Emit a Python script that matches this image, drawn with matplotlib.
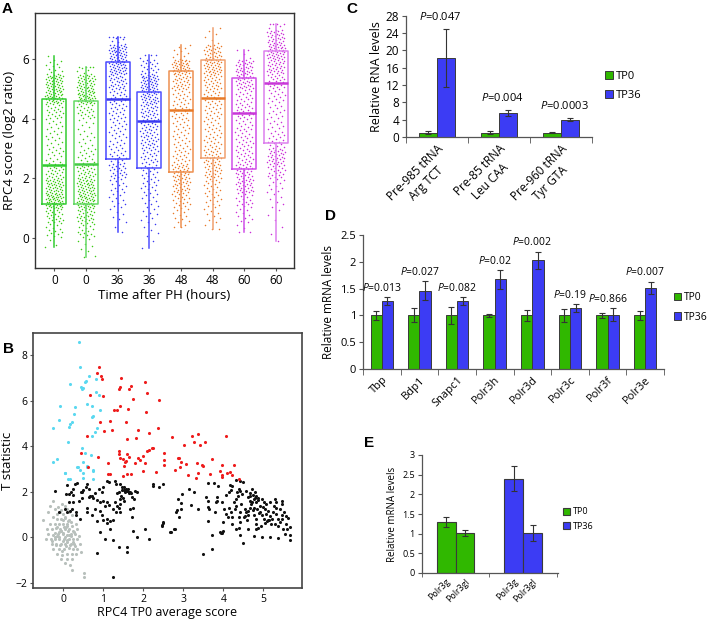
import numpy as np
import matplotlib
matplotlib.use('Agg')
import matplotlib.pyplot as plt

plt.rcParams['font.family'] = ['Open Sans', 'DejaVu Sans']
plt.rcParams['mathtext.fontset'] = 'custom'
plt.rcParams['mathtext.it'] = 'Open Sans:italic'
plt.rcParams['mathtext.rm'] = 'Open Sans'

# ============================================================
# Panel A: RPC4 score per liver sample (box + strip)
# ============================================================
a_labels = ['0', '0', '36', '36', '48', '48', '60', '60']
a_q1 = [1.15, 1.15, 2.66, 2.33, 2.22, 2.69, 2.30, 3.20]
a_med = [2.46, 2.48, 4.65, 3.93, 4.28, 4.70, 4.18, 5.20]
a_q3 = [4.65, 4.61, 5.90, 4.90, 5.60, 5.98, 5.38, 6.29]
a_lo = [-0.30, -0.65, 0.20, -0.35, 0.35, 0.30, 0.20, -0.10]
a_hi = [6.10, 5.75, 6.75, 6.15, 6.50, 7.05, 6.30, 7.20]
# point counts per 0.5-wide score bin, from -1 to 7.5
a_bin_edges = np.arange(-1.0, 7.51, 0.5)
a_counts = [
    [0, 3, 14, 22, 50, 40, 25, 14, 12, 12, 20, 42, 40, 12, 1, 0, 0],
    [2, 6, 16, 28, 45, 40, 28, 15, 10, 8, 20, 45, 38, 8, 0, 0, 0],
    [0, 0, 2, 6, 10, 12, 22, 16, 14, 15, 18, 20, 28, 40, 40, 10, 0],
    [0, 2, 5, 8, 10, 14, 16, 20, 26, 25, 28, 35, 40, 20, 4, 0, 0],
    [0, 0, 3, 10, 18, 28, 30, 18, 15, 15, 18, 18, 28, 40, 10, 0, 0],
    [0, 0, 3, 8, 12, 16, 25, 25, 18, 16, 18, 20, 25, 38, 30, 5, 1],
    [0, 0, 4, 10, 15, 28, 25, 20, 18, 16, 20, 18, 30, 30, 4, 0, 0],
    [0, 1, 2, 3, 6, 10, 22, 30, 16, 12, 12, 14, 22, 30, 40, 30, 6],
]
a_pt_colors = ['#3ccc14', '#3ccc14', '#3a3af0', '#3a3af0',
               '#ea7a28', '#ea7a28', '#cc2ed8', '#cc2ed8']
a_box_colors = ['#33cc33', '#66d866', '#4848ff', '#5050ff',
                '#ee9050', '#f0a070', '#d050e8', '#dd80ee']
a_med_colors = ['#33cc33', '#44cc44', '#3a3af0', '#3a3af0',
                '#e87a28', '#e87a28', '#c838d8', '#c838d8']

# ============================================================
# Panel B: T statistic vs TP0 score
# ============================================================
cyan_x = [0.40, 0.42, 0.63, 0.57, 0.54, 0.81, 0.175, 0.44, 0.50, 0.47, 0.81, 0.89,
          -0.075, 0.29, 0.60, 0.72, 0.92, 0.27, 0.75, 0.72, -0.10, 0.225, 0.175, 0.15,
          -0.27, 0.85, 0.79, 0.71, 0.125, 0.47, 0.54, 0.70, -0.17, -0.25, 0.48, 0.36,
          0.60, 0.42, 0.75, 0.05, 0.04, 0.35, 0.58, 0.48, 0.75, 0.125, 0.17, 0.50, 0.75]
cyan_y = [8.57, 7.48, 7.07, 6.87, 6.80, 6.94, 6.72, 6.58, 6.54, 6.50, 6.38, 6.22,
          5.77, 5.70, 5.86, 5.74, 5.59, 5.41, 5.33, 5.28, 5.16, 5.07, 4.99, 4.83,
          4.78, 4.80, 4.61, 4.43, 4.17, 3.90, 3.68, 3.62, 3.42, 3.32, 3.30, 3.10,
          3.13, 2.96, 2.93, 2.84, 2.81, 3.10, 3.10, 2.84, 2.96, 2.58, 2.55, 2.62, 2.58]

red_x = [0.90, 0.83, 0.93, 0.96, 0.66, 0.98, 1.45, 1.39, 1.42, 1.68, 1.63, 2.05,
         2.10, 2.38, 1.74, 1.41, 1.26, 1.35, 1.61, 2.06, 0.91, 1.16, 1.57, 1.01,
         1.22, 1.87, 2.375, 2.14, 0.58, 1.58, 1.81, 2.71, 0.43, 0.875, 1.40, 1.38,
         1.60, 1.65, 1.50, 1.57, 1.42, 2.21, 2.14, 2.08, 1.98, 1.87, 1.91, 2.52,
         2.51, 1.12, 1.55, 1.80, 2.03, 1.52, 0.625, 2.52, 2.79, 1.12, 1.17, 1.60,
         1.69, 1.48, 1.98, 2.32, 2.875, 3.21, 3.38, 3.28, 3.42, 3.54, 3.03, 4.06,
         2.23, 2.89, 2.94, 3.07, 3.34, 3.48, 3.50, 3.73, 3.98, 4.28, 2.93, 3.12,
         3.36, 3.67, 3.92, 3.98, 3.98, 4.10, 4.17, 4.22, 4.40, 3.32]
red_y = [7.48, 7.19, 7.09, 6.94, 6.25, 6.19, 6.97, 6.51, 6.60, 6.65, 6.51, 6.83,
         6.32, 6.04, 6.06, 5.78, 5.59, 5.57, 5.64, 5.51, 5.06, 5.12, 5.07, 4.65,
         4.71, 4.72, 4.81, 4.57, 4.43, 4.33, 4.35, 4.42, 3.71, 3.52, 3.77, 3.64,
         3.64, 3.54, 3.45, 3.36, 3.48, 3.90, 3.81, 3.77, 3.57, 3.46, 3.39, 3.68,
         3.39, 3.28, 3.30, 3.25, 3.28, 3.13, 3.09, 3.16, 2.97, 2.80, 2.80, 2.78,
         2.78, 2.70, 2.91, 2.87, 3.48, 4.46, 4.51, 4.20, 4.07, 4.20, 4.07, 4.45,
         3.90, 3.48, 3.32, 3.22, 3.28, 3.16, 3.12, 3.42, 3.17, 3.16, 3.07, 2.72,
         2.83, 2.77, 2.90, 2.75, 2.65, 2.81, 2.87, 2.75, 2.57, 2.61]

black_x = [-0.21, 0.08, 0.06, 0.18, 0.23, 0.30, 0.35, 0.23, 0.15, 0.44, 0.50, 0.47,
           0.60, 0.57, 0.63, 0.67, 0.64, 0.71, 0.79, 0.88, 0.96, 1.00, 1.08, 1.14,
           1.28, 1.31, 0.75, 0.85, 0.92, 1.00, 1.10, 1.04, 1.14, 1.25, 1.32, 0.46,
           0.39, 0.25, 0.13, 0.05, 0.21, 0.17, 0.32, 0.08, -0.10, 0.60, 0.60, 0.71,
           0.42, 0.32, 0.79, 0.92, 0.96, 0.83, 0.98, 1.08, 1.08, 1.17, 1.23, 1.42,
           1.46, 1.52, 1.52, 1.54, 1.58, 1.57, 1.61, 1.63, 1.64, 1.67, 1.69, 1.47,
           1.40, 1.35, 1.43, 1.48, 1.52, 1.42, 1.33, 1.28, 1.42, 1.71, 1.77, 1.79,
           1.85, 1.40, 1.42, 1.67, 1.71, 1.75, 1.23, 1.38, 1.58, 1.58, 1.25, 0.92,
           1.04, 0.83, 1.17, 1.75, 1.83, 2.04, 2.13, 2.23, 2.25, 2.50, 2.46, 2.50,
           2.79, 2.83, 2.69, 2.40, 3.15, 3.27, 2.98, 2.88, 2.94, 3.20, 2.85, 2.94,
           2.90, 2.48, 2.46, 2.78, 2.67, 3.38, 3.63, 3.78, 3.57, 3.63, 3.63, 3.64,
           3.62, 3.84, 3.84, 3.73, 3.71, 3.50, 3.92, 3.94, 3.98, 4.00, 4.00, 4.08,
           4.12, 4.02, 4.15, 3.88, 4.07, 4.14, 4.19, 4.17, 4.23, 4.31, 4.42, 4.50,
           4.27, 4.32, 4.38, 4.35, 4.42, 4.46, 4.40, 4.20, 4.22, 4.42, 4.40, 4.43,
           4.39, 4.33, 4.50, 4.61, 4.54, 4.58, 4.60, 4.63, 4.58, 4.67, 4.71, 4.75,
           4.79, 4.77, 4.83, 4.67, 4.73, 4.82, 4.88, 4.92, 4.85, 4.77, 4.67, 4.63,
           4.77, 4.83, 4.82, 4.88, 4.83, 4.92, 4.98, 5.02, 5.04, 5.08, 5.13, 5.17,
           5.10, 5.15, 5.21, 5.25, 5.32, 5.27, 5.33, 5.38, 5.42, 5.30, 5.37, 5.46,
           5.48, 5.52, 5.56, 5.63, 5.58, 5.67, 5.60, 5.50, 5.54, 5.67, 5.67, 5.36,
           5.17, 4.98, 4.77, 5.29, 5.33, 5.46, 5.48, 5.43, 5.02, 5.08, 5.17, 4.96,
           4.33, 4.29, 3.83, 3.96, 3.79, 4.21, 4.42, 4.70, 4.86, 4.74, 4.90, 5.00,
           4.62, 4.55, 4.95, 5.20, 5.12, 4.45, 4.52, 4.68, 4.80, 5.05]
black_y = [2.04, 2.29, 1.91, 2.01, 2.12, 2.33, 2.38, 1.86, 1.91, 2.01, 2.07, 1.99,
           2.33, 2.22, 2.12, 1.83, 1.78, 1.83, 1.93, 2.12, 2.01, 2.20, 2.48, 2.41,
           2.48, 2.33, 1.71, 1.64, 1.57, 1.58, 1.54, 1.39, 1.42, 1.25, 1.10, 1.72,
           1.61, 1.54, 1.57, 1.25, 1.25, 1.17, 1.13, 1.10, 1.10, 1.28, 1.13, 0.99,
           0.81, 0.96, 1.25, 1.17, 0.96, 0.70, 0.77, 0.81, 0.64, 0.70, 0.77, 2.33,
           2.23, 2.19, 2.09, 1.97, 2.04, 2.14, 2.12, 2.00, 1.93, 2.00, 1.93, 2.07,
           1.97, 1.94, 1.83, 1.71, 1.61, 1.46, 1.39, 1.57, 1.68, 1.75, 1.68, 2.04,
           1.97, 1.28, 1.10, 1.25, 0.88, 1.28, -0.13, -0.42, -0.42, -0.64, -1.72, 0.23,
           -0.06, -0.67, 0.38, 0.30, 0.01, 0.38, -0.06, 2.33, 2.26, 2.33, 0.55, 0.67,
           0.38, 1.10, 0.23, 2.19, 2.12, 2.01, 1.90, 1.68, 1.49, 1.42, 1.22, 1.25,
           0.90, 0.64, 0.52, 0.35, 0.23, 1.25, 2.38, 2.38, 1.78, 1.61, 1.32, 1.25,
           0.72, 1.75, 1.58, 0.09, -0.49, -0.71, 0.23, 0.17, 0.20, 0.26, 0.67, 1.03,
           0.88, 1.25, 1.28, 2.26, 1.86, 1.97, 2.06, 2.29, 2.26, 2.52, 2.46, 2.43,
           1.54, 1.68, 1.80, 1.97, 2.04, 1.90, 2.12, 1.10, 0.88, 1.10, 0.88, 0.67,
           0.41, 0.38, -0.25, 0.38, 1.25, 1.10, 0.78, 0.96, 2.04, 1.94, 2.14, 1.86,
           1.97, 1.68, 1.83, 1.61, 1.54, 1.57, 1.71, 1.39, 1.25, 1.28, 1.28, 1.75,
           0.96, 0.81, 0.59, 0.41, 0.35, 1.10, 0.99, 0.81, 1.25, 1.03, 1.17, 0.93,
           0.70, 0.74, 0.81, 1.10, 1.28, 1.39, 1.03, 0.81, 0.67, 0.59, 0.52, 0.96,
           0.81, 1.10, 0.93, 0.84, 0.59, 0.45, 0.38, 0.38, 0.16, 0.12, -0.10, -0.03,
           0.01, 0.01, 0.06, 1.68, 1.54, 1.61, 1.46, 1.25, 1.57, 1.46, 1.57, 1.68,
           1.39, 1.25, 1.54, 1.57, 1.10, 0.59, 0.09, 1.45, 1.62, 1.20, 1.05, 1.35,
           1.15, 0.95, 0.50, 0.60, 0.75, 1.45, 0.90, 1.80, 1.72, 0.65]

grey_x = [-0.27, -0.33, -0.38, -0.50, -0.21, -0.13, -0.04, 0.04, 0.08, -0.08, -0.15,
          0.00, 0.13, 0.21, -0.25, -0.17, -0.07, 0.04, 0.13, 0.19, -0.33, -0.21,
          -0.10, 0.00, 0.08, 0.21, 0.32, -0.42, -0.29, -0.18, -0.08, 0.04, 0.15,
          0.25, 0.33, -0.38, -0.25, -0.13, -0.02, 0.08, 0.18, 0.29, -0.43, -0.32,
          -0.21, -0.10, 0.02, 0.13, 0.23, 0.33, -0.29, -0.18, -0.08, 0.04, 0.17,
          0.27, -0.25, -0.10, 0.02, 0.13, 0.23, 0.35, -0.17, -0.04, 0.08, 0.21,
          0.32, -0.07, 0.08, 0.21, 0.04, 0.17, 0.21, 0.52, 0.52, 0.43, 0.42, 0.40,
          -0.02, 0.06, -0.06, -0.15, 0.11, -0.28, -0.05, 0.00, 0.05, -0.10, 0.10,
          -0.05, 0.15, -0.20, 0.00, 0.20, 0.10, -0.15, 0.05, -0.05, 0.25, 0.30,
          -0.12, 0.02, 0.18, -0.22, 0.07, 0.12, -0.03, 0.26, -0.18, 0.09]
grey_y = [1.61, 1.39, 1.10, 0.74, 1.25, 1.32, 1.46, 1.39, 1.25, 1.10, 1.03,
          1.03, 1.10, 0.96, 0.88, 0.81, 0.81, 0.84, 0.74, 0.67, 0.59, 0.59,
          0.59, 0.59, 0.52, 0.52, 0.59, 0.38, 0.38, 0.41, 0.38, 0.35, 0.38,
          0.30, 0.38, 0.16, 0.12, 0.16, 0.16, 0.12, 0.16, 0.16, -0.06, -0.06,
          -0.09, -0.06, -0.09, -0.06, -0.09, -0.06, -0.28, -0.28, -0.32, -0.28, -0.32,
          -0.28, -0.49, -0.49, -0.52, -0.46, -0.52, -0.49, -0.71, -0.78, -0.75, -0.71,
          -0.71, -0.93, -0.96, -0.93, -1.14, -1.22, -1.43, -1.58, -1.72, -0.64, -0.28, 0.06,
          0.74, 0.45, 0.26, 0.06, 0.26, -0.17, 0.30, 0.20, 0.00, 0.00, -0.20,
          -0.30, 0.10, 0.20, -0.15, -0.30, 0.60, 0.45, 0.90, 1.20, -0.20, -0.40,
          0.25, 0.45, 0.05, 0.00, -0.40, 0.70, -0.60, 0.25, -0.35, -0.10]

# ============================================================
# Panel C: pre-tRNA levels
# ============================================================
c_labels = ['Pre-985 tRNA\nArg TCT', 'Pre-85 tRNA\nLeu CAA', 'Pre-960 tRNA\nTyr GTA']
c_tp0 = [1.0, 1.0, 1.0]
c_tp0_err = [0.4, 0.35, 0.12]
c_tp36 = [18.2, 5.5, 3.95]
c_tp36_err = [6.7, 0.73, 0.35]
c_pvals = ['0.047', '0.004', '0.0003']

# ============================================================
# Panel D: Pol III machinery mRNA
# ============================================================
d_labels = ['Tbp', 'Bdp1', 'Snapc1', 'Polr3h', 'Polr3d', 'Polr3c', 'Polr3f', 'Polr3e']
d_tp0 = [1.0, 1.0, 1.0, 1.0, 1.0, 1.0, 1.0, 1.0]
d_tp0_err = [0.085, 0.13, 0.16, 0.025, 0.10, 0.12, 0.04, 0.085]
d_tp36 = [1.27, 1.46, 1.27, 1.67, 2.03, 1.14, 1.01, 1.51]
d_tp36_err = [0.07, 0.18, 0.07, 0.18, 0.16, 0.07, 0.12, 0.12]
d_pvals = ['0.013', '0.027', '0.082', '0.02', '0.002', '0.19', '0.866', '0.007']

# ============================================================
# Panel E: Polr3g / Polr3gl
# ============================================================
e_genes = ['Polr3g', 'Polr3gl']
e_tp0 = [1.30, 1.02]
e_tp0_err = [0.12, 0.07]
e_tp36 = [2.40, 1.02]
e_tp36_err = [0.32, 0.20]

GREEN = '#30b800'
BLUE = '#3c3cf4'
EDGE = '#3a3a3a'

fig = plt.figure(figsize=(7.08, 6.2), dpi=100)


def px_axes(left, top, right, bottom):
    return fig.add_axes([left / 708, 1 - bottom / 620, (right - left) / 708, (bottom - top) / 620])


def excel_style(ax, fs):
    for s in ['top', 'right']:
        ax.spines[s].set_visible(False)
    for s in ['left', 'bottom']:
        ax.spines[s].set_color('#555555')
        ax.spines[s].set_linewidth(0.9)
    ax.tick_params(axis='y', length=3, width=0.8, color='#555555', labelsize=fs, pad=2)


# ---------------- A ----------------
axA = px_axes(35, 13, 294, 268)
for i, counts in enumerate(a_counts):
    ys = []
    for b, n in enumerate(counts):
        if n:
            ys.extend(a_bin_edges[b] + (np.arange(n) + 0.5) / n * 0.5)
    ys = np.clip(np.array(ys), a_lo[i], a_hi[i])
    k = np.arange(len(ys))
    xs = i + (((k * 0.618034 + i * 0.37) % 1.0) - 0.5) * 0.56
    axA.scatter(xs, ys, s=1.2, color=a_pt_colors[i], linewidths=0, zorder=2)
    stats = [dict(med=a_med[i], q1=a_q1[i], q3=a_q3[i], whislo=a_lo[i], whishi=a_hi[i], fliers=[])]
    axA.bxp(stats, positions=[i], widths=0.76, showfliers=False, showcaps=False,
            boxprops=dict(color=a_box_colors[i], linewidth=1.1),
            whiskerprops=dict(color=a_box_colors[i], linewidth=1.1),
            medianprops=dict(color=a_med_colors[i], linewidth=1.8),
            manage_ticks=False, zorder=3)
axA.set_xlim(-0.61, 7.57)
axA.set_ylim(-1.02, 7.56)
axA.set_xticks(range(8))
axA.set_xticklabels(a_labels)
axA.set_yticks([0, 2, 4, 6])
axA.tick_params(labelsize=8.5, length=2.5, color='#555555', pad=2)
axA.set_ylabel('RPC4 score (log2 ratio)', fontsize=9.5, labelpad=4)
axA.set_xlabel('Time after PH (hours)', fontsize=9.5, labelpad=1)
for s in axA.spines.values():
    s.set_color('#333333')
    s.set_linewidth(1.0)

# ---------------- B ----------------
axB = px_axes(33, 333, 302, 588)
axB.scatter(grey_x, grey_y, s=5, color='#b8c0bc', linewidths=0, zorder=2)
axB.scatter(black_x, black_y, s=5, color='#111111', linewidths=0, zorder=3)
axB.scatter(cyan_x, cyan_y, s=5, color='#5ad8f0', linewidths=0, zorder=3)
axB.scatter(red_x, red_y, s=5, color='#ee1c1c', linewidths=0, zorder=3)
axB.set_xlim(-0.76, 5.97)
axB.set_ylim(-2.22, 8.96)
axB.set_xticks([0, 1, 2, 3, 4, 5])
axB.set_yticks([-2, 0, 2, 4, 6, 8])
axB.tick_params(labelsize=7.5, length=2.5, color='#555555', pad=1.5)
axB.set_ylabel('T statistic', fontsize=9.5, labelpad=1)
axB.set_xlabel('RPC4 TP0 average score', fontsize=9, labelpad=1)
for s in axB.spines.values():
    s.set_color('#444444')
    s.set_linewidth(1.2)

# ---------------- C ----------------
axC = px_axes(406, 15.7, 592, 137)
x = np.arange(len(c_labels))
w = 0.29
ekw = dict(ecolor='#333333', elinewidth=0.8, capsize=2, capthick=0.8)
axC.bar(x - w / 2, c_tp0, w, yerr=c_tp0_err, color=GREEN, edgecolor=EDGE, linewidth=0.7,
        error_kw=ekw, label='TP0')
axC.bar(x + w / 2, c_tp36, w, yerr=c_tp36_err, color=BLUE, edgecolor=EDGE, linewidth=0.7,
        error_kw=ekw, label='TP36')
for i, p in enumerate(c_pvals):
    axC.text(x[i] + 0.05, c_tp36[i] + c_tp36_err[i] + 1.4, r'$\mathit{P}$=' + p,
             ha='center', va='bottom', fontsize=8)
axC.set_xlim(-0.5, 2.5)
axC.set_ylim(0, 28)
axC.set_yticks(range(0, 29, 4))
excel_style(axC, 8.5)
axC.set_xticks(x)
axC.set_xticklabels(c_labels, rotation=45, ha='right', rotation_mode='anchor',
                    multialignment='center', fontsize=8.5)
axC.set_xticks([-0.5, 0.5, 1.5, 2.5], minor=True)
axC.tick_params(axis='x', which='major', length=0, pad=4)
axC.tick_params(axis='x', which='minor', length=4, color='#555555')
axC.set_ylabel('Relative RNA levels', fontsize=9, labelpad=2)
axC.legend(loc='center left', bbox_to_anchor=(605 / 708, 1 - 86 / 620), bbox_transform=fig.transFigure,
           frameon=False, fontsize=8, handlelength=0.7, handleheight=0.7, handletextpad=0.3,
           labelspacing=0.7, borderpad=0, borderaxespad=0)

# ---------------- D ----------------
axD = px_axes(363, 235, 664, 369)
x = np.arange(len(d_labels))
w = 0.3
axD.bar(x - w / 2, d_tp0, w, yerr=d_tp0_err, color=GREEN, edgecolor=EDGE, linewidth=0.7,
        error_kw=ekw, label='TP0')
axD.bar(x + w / 2, d_tp36, w, yerr=d_tp36_err, color=BLUE, edgecolor=EDGE, linewidth=0.7,
        error_kw=ekw, label='TP36')
for i, p in enumerate(d_pvals):
    axD.text(x[i], d_tp36[i] + d_tp36_err[i] + 0.06, r'$\mathit{P}$=' + p,
             ha='center', va='bottom', fontsize=7.5)
axD.set_xlim(-0.5, 7.5)
axD.set_ylim(0, 2.5)
axD.set_yticks([0, 0.5, 1, 1.5, 2, 2.5])
axD.set_yticklabels(['0', '0.5', '1', '1.5', '2', '2.5'])
excel_style(axD, 8)
axD.set_xticks(x)
axD.set_xticklabels(d_labels, rotation=45, ha='right', rotation_mode='anchor', fontsize=8)
axD.set_xticks(np.arange(-0.5, 8, 1), minor=True)
axD.tick_params(axis='x', which='major', length=0, pad=4)
axD.tick_params(axis='x', which='minor', length=4, color='#555555')
axD.set_ylabel('Relative mRNA levels', fontsize=8.5, labelpad=4)
axD.legend(loc='center left', bbox_to_anchor=(674 / 708, 1 - 307.5 / 620), bbox_transform=fig.transFigure,
           frameon=False, fontsize=7.5, handlelength=0.7, handleheight=0.7, handletextpad=0.25,
           labelspacing=0.8, borderpad=0, borderaxespad=0)

# ---------------- E ----------------
axE = px_axes(421.7, 455, 558.3, 573)
w = 0.28
axE.bar([-w / 2, w / 2], e_tp0, w, yerr=e_tp0_err, color=GREEN, edgecolor=EDGE, linewidth=0.8,
        error_kw=ekw, label='TP0')
axE.bar([1 - w / 2, 1 + w / 2], e_tp36, w, yerr=e_tp36_err, color=BLUE, edgecolor=EDGE,
        linewidth=0.8, error_kw=ekw, label='TP36')
axE.set_xlim(-0.5, 1.52)
axE.set_ylim(0, 3)
axE.set_yticks([0, 0.5, 1, 1.5, 2, 2.5, 3])
axE.set_yticklabels(['0', '0.5', '1', '1.5', '2', '2.5', '3'])
excel_style(axE, 6.5)
axE.set_xticks([-w / 2, w / 2, 1 - w / 2, 1 + w / 2])
axE.set_xticklabels(e_genes + e_genes, rotation=45, ha='right', rotation_mode='anchor', fontsize=6.5)
axE.set_xticks([-0.5, 0.5, 1.5], minor=True)
axE.tick_params(axis='x', which='major', length=0, pad=3)
axE.tick_params(axis='x', which='minor', length=3, color='#555555')
axE.set_ylabel('Relative mRNA levels', fontsize=7, labelpad=3)
axE.legend(loc='center left', bbox_to_anchor=(563 / 708, 1 - 519 / 620), bbox_transform=fig.transFigure,
           frameon=False, fontsize=6.5, handlelength=0.8, handleheight=0.8, handletextpad=0.3,
           labelspacing=0.6, borderpad=0, borderaxespad=0)

# panel letters
for lbl, lx, ly in [('A', 2, 2), ('B', 3, 342), ('C', 346, 2), ('D', 325, 209), ('E', 364, 436)]:
    fig.text(lx / 708, 1 - ly / 620, lbl, fontsize=11, fontweight='bold', va='top', ha='left',
             family=['Liberation Sans', 'DejaVu Sans'])

fig.savefig('out.png', dpi=100)
